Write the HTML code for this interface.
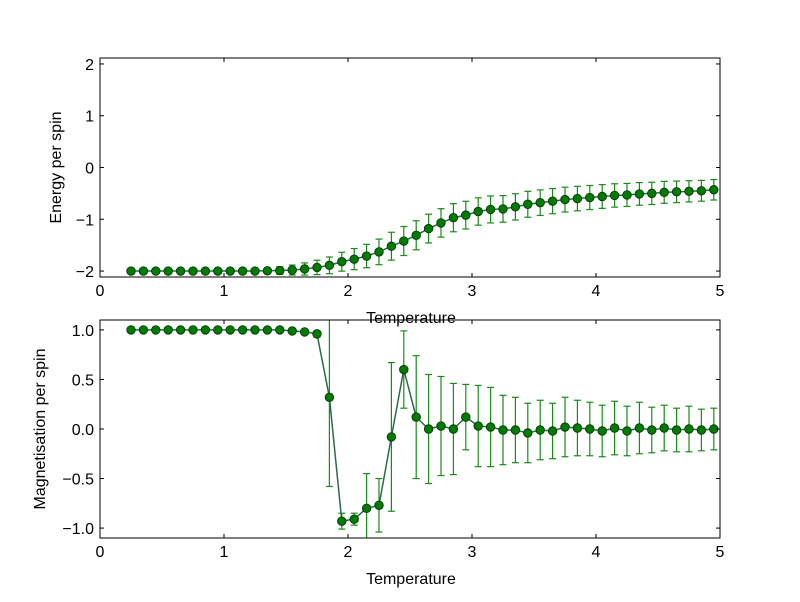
<!DOCTYPE html><html><head><style>body{margin:0;background:#fff}svg text{font-family:"Liberation Sans",sans-serif;font-size:16px}</style></head><body>
<svg id="s" width="800" height="597" xmlns="http://www.w3.org/2000/svg"></svg>
<script>
const s=document.getElementById('s');let h='';
const T=[];for(let i=0;i<48;i++)T.push(0.25+0.1*i);
const E=[-2,-2,-2,-2,-2,-2,-2,-2,-2,-2,-2,-1.995,-1.99,-1.98,-1.96,-1.93,-1.89,-1.82,-1.77,-1.71,-1.63,-1.52,-1.42,-1.31,-1.18,-1.07,-0.97,-0.92,-0.85,-0.81,-0.80,-0.76,-0.71,-0.68,-0.65,-0.62,-0.60,-0.58,-0.56,-0.54,-0.53,-0.51,-0.50,-0.48,-0.47,-0.46,-0.45,-0.43];
const Ee=E.map((e,i)=>{let t=T[i];if(t<1.2)return 0.01;return Math.min(0.28,0.02+0.26*(t-1.2)/1.2)-(t>2.6?(t-2.6)*0.035:0);});
const M=[1,1,1,1,1,1,1,1,1,1,1,1,1,0.99,0.98,0.96,0.32,-0.93,-0.91,-0.80,-0.77,-0.08,0.60,0.12,0.0,0.03,0.0,0.12,0.03,0.02,-0.01,-0.01,-0.04,-0.01,-0.02,0.02,0.01,0,-0.02,0.01,-0.02,0.01,-0.01,0.01,-0.01,0,-0.01,0];
const Me=[0,0,0,0,0,0,0,0,0,0,0,0,0,0.01,0.015,0.03,0.9,0.08,0.06,0.35,0.27,0.75,0.39,0.62,0.55,0.5,0.46,0.33,0.41,0.40,0.35,0.33,0.30,0.30,0.28,0.30,0.28,0.27,0.26,0.27,0.25,0.26,0.23,0.23,0.22,0.23,0.21,0.21];
const X=t=>100+124*t;
function panel(top,bot,ymin,ymax,ticks,lab,fmt,Y,Ye,ylab){
 const Yp=v=>bot-(v-ymin)/(ymax-ymin)*(bot-top);
 h+=`<defs><clipPath id="c${top}"><rect x="100" y="${top}" width="620" height="${bot-top}"/></clipPath></defs><g clip-path="url(#c${top})">`;
 let pts=T.map((t,i)=>X(t)+','+Yp(Y[i])).join(' ');
 for(let i=0;i<48;i++){const x=X(T[i]),a=Yp(Y[i]+Ye[i]),b=Yp(Y[i]-Ye[i]);if(Ye[i]>0.005){h+=`<line x1="${x}" x2="${x}" y1="${a}" y2="${b}" stroke="#1a8a1a" stroke-width="1.2"/><line x1="${x-3.5}" x2="${x+3.5}" y1="${a}" y2="${a}" stroke="#1a8a1a" stroke-width="1.2"/><line x1="${x-3.5}" x2="${x+3.5}" y1="${b}" y2="${b}" stroke="#1a8a1a" stroke-width="1.2"/>`;}}
 h+=`<polyline points="${pts}" fill="none" stroke="#2a6a4a" stroke-width="1.5"/>`;
 for(let i=0;i<48;i++)h+=`<circle cx="${X(T[i])}" cy="${Yp(Y[i])}" r="4.3" fill="#007a00" stroke="#003300" stroke-width="0.8"/>`;
 h+=`</g><rect x="100" y="${top}" width="620" height="${bot-top}" fill="none" stroke="#000" stroke-width="1"/>`;
 for(let t=0;t<=5;t++){const x=X(t);h+=`<line x1="${x}" x2="${x}" y1="${bot}" y2="${bot-4}" stroke="#000"/><line x1="${x}" x2="${x}" y1="${top}" y2="${top+4}" stroke="#000"/><text x="${x}" y="${bot+19}" text-anchor="middle">${t}</text>`;}
 ticks.forEach((v,k)=>{const y=Yp(v);h+=`<line x1="100" x2="104" y1="${y}" y2="${y}" stroke="#000"/><line x1="716" x2="720" y1="${y}" y2="${y}" stroke="#000"/><text x="94" y="${y+6}" text-anchor="end">${lab[k]}</text>`;});
 h+=`<text x="411" y="${bot+46}" text-anchor="middle">Temperature</text>`;
 const cy=(top+bot)/2;h+=`<text transform="translate(${ylab},${cy}) rotate(-90)" text-anchor="middle">${fmt}</text>`;
}
panel(58,277,-2.115,2.115,[-2,-1,0,1,2],['−2','−1','0','1','2'],'Energy per spin',E,Ee,61);
panel(320,538,-1.1,1.1,[-1,-0.5,0,0.5,1],['−1.0','−0.5','0.0','0.5','1.0'],'Magnetisation per spin',M,Me,45);
s.innerHTML=h;
</script></body></html>
